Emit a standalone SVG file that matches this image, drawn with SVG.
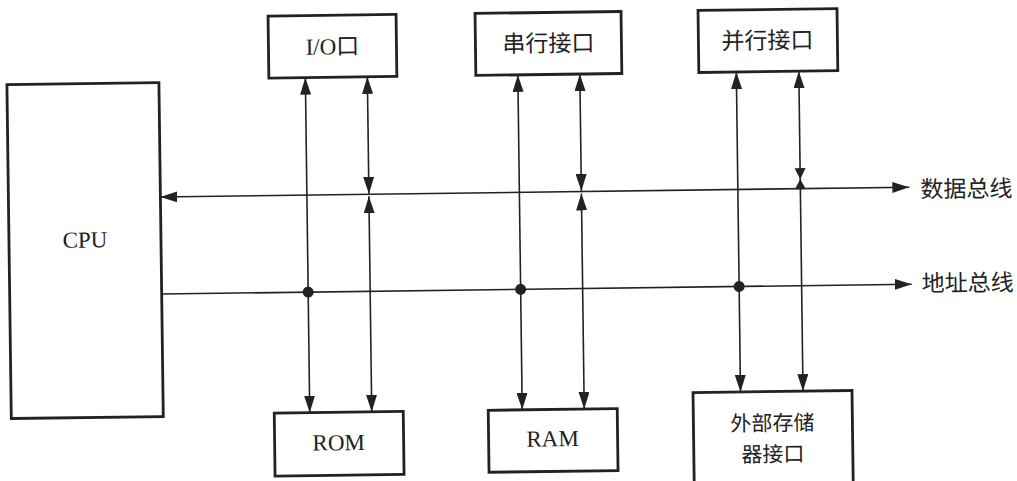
<svg xmlns="http://www.w3.org/2000/svg" width="1017" height="481" viewBox="0 0 1017 481">
  <style>
    .box { fill: #ffffff; stroke: #222222; stroke-width: 2.8; }
    .wire { fill: none; stroke: #222222; stroke-width: 1.6; }
    .dot { fill: #222222; }
    .head { fill: #222222; }
    .lat { font-family: "Liberation Serif", "Noto Sans CJK SC", serif; font-size: 23px; fill: #222222; text-anchor: middle; }
    .cjk { font-family: "Noto Sans CJK SC", "Noto Sans", sans-serif; font-size: 23px; fill: #222222; text-anchor: middle; }
    .cjk2 { font-family: "Noto Sans CJK SC", "Noto Sans", sans-serif; font-size: 21px; fill: #222222; text-anchor: middle; }
    .lbl { font-family: "Noto Sans CJK SC", "Noto Sans", sans-serif; font-size: 23px; fill: #222222; }
  </style>
  <defs>
    <marker id="arrow" viewBox="0 0 17 11" refX="17" refY="5.5" markerWidth="17" markerHeight="11" markerUnits="userSpaceOnUse" orient="auto-start-reverse">
      <path d="M0,0 L17,5.5 L0,11 Z" class="head"/>
    </marker>
  </defs>
  <rect width="1017" height="481" fill="#ffffff"/>

  <g transform="rotate(-0.75 508 240)">
    <!-- processor -->
    <g id="cpu">
      <rect class="box" x="9" y="78" width="152" height="334"/>
      <text class="lat" x="85" y="242">CPU</text>
    </g>

    <!-- interfaces on top -->
    <g id="io">
      <rect class="box" x="271" y="13" width="128" height="62"/>
      <text class="lat" x="335" y="52">I/O口</text>
    </g>
    <g id="serial">
      <rect class="box" x="478" y="13" width="146" height="62"/>
      <text class="cjk" x="551" y="52">串行接口</text>
    </g>
    <g id="parallel">
      <rect class="box" x="701" y="13" width="139" height="62"/>
      <text class="cjk" x="770" y="52">并行接口</text>
    </g>

    <!-- memories at the bottom -->
    <g id="rom">
      <rect class="box" x="272" y="410" width="129" height="63"/>
      <text class="lat" x="336" y="448">ROM</text>
    </g>
    <g id="ram">
      <rect class="box" x="486" y="410" width="129" height="62"/>
      <text class="lat" x="550" y="447">RAM</text>
    </g>
    <g id="extmem">
      <rect class="box" x="691" y="395" width="159" height="100"/>
      <text class="cjk2" x="770" y="434">外部存储</text>
      <text class="cjk2" x="770" y="465">器接口</text>
    </g>

    <!-- bus labels -->
    <g id="databus-label">
      <text class="lbl" x="921" y="203">数据总线</text>
    </g>
    <g id="addrbus-label">
      <text class="lbl" x="921" y="297">地址总线</text>
    </g>

    <g id="connectors">
      <!-- data bus and address bus -->
      <path class="wire" d="M161,192.5 H910" marker-start="url(#arrow)" marker-end="url(#arrow)"/>
      <path class="wire" d="M161,289.5 H911" marker-end="url(#arrow)"/>

      <!-- address taps: top interface to bottom memory -->
      <path class="wire" d="M307.5,75 V410" marker-start="url(#arrow)" marker-end="url(#arrow)"/>
      <path class="wire" d="M520,75 V410" marker-start="url(#arrow)" marker-end="url(#arrow)"/>
      <path class="wire" d="M738.5,75 V395" marker-start="url(#arrow)" marker-end="url(#arrow)"/>

      <!-- data taps: interface to data bus, data bus to memory -->
      <path class="wire" d="M369.5,75 V192" marker-start="url(#arrow)" marker-end="url(#arrow)"/>
      <path class="wire" d="M369.5,194.5 V410" marker-start="url(#arrow)" marker-end="url(#arrow)"/>
      <path class="wire" d="M582,75 V192" marker-start="url(#arrow)" marker-end="url(#arrow)"/>
      <path class="wire" d="M582,194.5 V410" marker-start="url(#arrow)" marker-end="url(#arrow)"/>
      <path class="wire" d="M801,75 V192" marker-start="url(#arrow)"/>
      <polygon class="head" points="795.5,172 806.5,172 801,183"/>
      <polygon class="head" points="801,183 806.5,193 795.5,193"/>
      <path class="wire" d="M801,192 V395" marker-end="url(#arrow)"/>

      <!-- junction dots on the address bus -->
      <circle class="dot" cx="307.5" cy="289.5" r="5.5"/>
      <circle class="dot" cx="520" cy="289.5" r="5.5"/>
      <circle class="dot" cx="738.5" cy="289.5" r="5.5"/>
    </g>
  </g>
</svg>
